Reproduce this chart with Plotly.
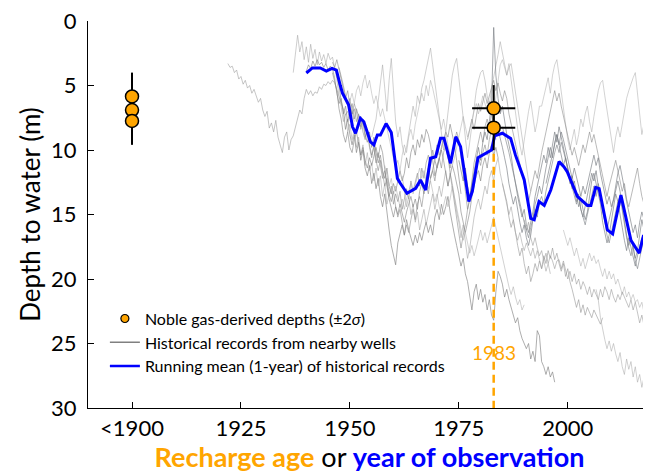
import plotly.graph_objects as go

# ---------------- data ----------------
# Noble gas-derived depths (recharge age); "<1900" plotted at 1900
NG_OLD_YEAR = [1900, 1900, 1900]
NG_OLD_DEPTH = [5.85, 6.9, 7.75]
NG_OLD_ERR = [1.85, 1.6, 1.85]

NG_1983_YEAR = [1983, 1983]
NG_1983_DEPTH = [6.77, 8.27]
NG_1983_ERR_Y = [1.8, 1.75]
NG_1983_ERR_X = [4.95, 4.95]

# Running mean (1-year) of historical records
MEAN_YEAR = [1940.0, 1941.4, 1943.2, 1944.6, 1945.9, 1946.9, 1947.8, 1948.3, 1949.7, 1950.6,
             1951.3, 1952.4, 1953.2, 1954.7, 1955.5, 1956.3, 1957.0, 1958.3, 1959.5, 1960.9,
             1961.6, 1963.1, 1965.1, 1966.2, 1967.4, 1968.5, 1969.7, 1970.8, 1971.6, 1973.1,
             1974.3, 1975.4, 1977.3, 1978.1, 1979.4, 1981.5, 1982.5, 1983.2, 1985.0, 1986.9,
             1988.0, 1990.0, 1991.5, 1992.3, 1993.4, 1994.6, 1996.1, 1998.0, 1999.1, 1999.9,
             2002.2, 2004.5, 2005.3, 2006.4, 2007.2, 2009.1, 2010.3, 2012.2, 2014.5, 2016.4,
             2017.4, 2018.3, 2019.3]
MEAN_DEPTH = [4.03, 3.64, 3.64, 3.88, 3.67, 3.80, 5.0, 5.6, 6.5, 8.2,
              8.71, 7.54, 7.81, 9.36, 9.61, 8.84, 8.84, 7.95, 8.65, 12.2,
              12.6, 13.36, 12.97, 12.33, 13.1, 10.64, 10.52, 9.09, 9.09, 11.03,
              8.97, 9.74, 14.0, 13.2, 10.6, 10.2, 10.0, 8.9, 8.7, 9.1,
              10.4, 12.3, 15.3, 15.4, 14.0, 14.3, 13.1, 10.9, 11.3, 11.7,
              13.6, 14.3, 14.3, 12.9, 13.0, 16.2, 16.5, 13.5, 17.0, 18.0,
              16.6, 17.2, 17.2]

# Historical records from nearby wells: start year and half-yearly depths
WELL_STEP = 0.5
WELL_START = [1922.0, 1937.0, 1940.0, 1946.0, 1947.0, 1955.0, 1975.0, 1983.0, 1984.0,
              1985.0, 1990.0, 2006.5, 1962.0, 1977.0, 1995.0, 1947.5,
              1946.0, 1950.0, 1985.0, 1958.0, 1999.0]
WELL_DEPTHS = [
    [3.3, 3.6, 3.5, 4.0, 3.8, 4.5, 4.3, 4.9, 4.6, 5.2, 5.0, 5.6, 5.3, 5.8, 6.3, 6.0, 6.9, 7.4, 7.0, 8.3,
     7.9, 8.6, 7.7, 9.0, 9.6, 10.2, 9.0, 8.6, 10.0, 9.2, 8.9, 8.2, 7.6, 6.9, 7.2, 6.0, 5.3, 5.7, 5.4, 5.8,
     5.5, 5.6, 5.1, 5.3, 4.9, 5.0, 4.7, 4.9, 4.6, 4.8, 5.3, 5.9, 6.4, 6.8, 7.3, 7.0, 7.6, 7.1, 7.8],
    [4.0, 2.6, 1.1, 2.4, 1.6, 3.0, 2.0, 3.2, 1.8, 2.9, 2.2, 3.4, 2.4, 3.1, 2.6, 3.3, 2.5, 3.0, 2.8, 3.6,
     4.5, 5.8, 6.6, 7.8, 7.2, 8.6, 8.0, 9.2, 8.4, 9.8, 9.0, 10.4, 9.6, 11.2, 10.2, 11.6, 11.0, 12.4, 11.4,
     12.8, 12.0, 13.6, 12.6, 14.2, 13.4],
    [3.9, 3.4, 3.7, 3.1, 3.5, 3.0, 3.4, 3.2, 3.6, 3.3, 3.8, 3.5, 3.7, 4.4, 5.6, 6.4, 6.0, 7.2, 6.6, 7.8,
     7.0, 6.4, 7.6, 6.8, 7.4, 8.2, 7.6, 8.8, 9.4, 8.6, 9.8, 9.0, 10.2, 11.0, 10.4, 11.6, 12.2, 11.4, 12.8,
     13.4, 12.6, 13.2, 12.4, 11.6, 12.4, 11.8, 10.6, 11.4, 10.2, 9.6, 10.4, 9.2, 9.8, 8.8, 9.4, 8.4, 8.8,
     9.6, 10.8, 12.0, 11.4, 10.6, 9.8, 9.2, 8.6, 9.0, 8.0, 8.8, 9.6, 10.8, 12.2, 13.4],
    [3.2, 3.6, 3.0, 3.8, 4.6, 5.2, 6.0, 5.4, 6.6, 7.2, 6.8, 7.8, 7.2, 8.4, 7.8, 9.0, 8.4, 9.6, 10.4, 9.8,
     11.0, 10.2, 11.4, 12.2, 11.6, 12.8, 13.6, 12.8, 14.2, 13.4, 14.0, 13.2, 14.6, 13.8, 13.0, 13.8, 12.4,
     13.2, 12.6, 11.8, 12.8, 11.4, 12.2, 11.0, 10.4, 11.2, 10.0, 10.8, 9.6, 10.4, 9.8, 9.0, 9.8, 10.6,
     11.4, 10.2, 9.4, 8.6, 9.2, 10.4, 11.8, 13.2, 14.6, 13.8, 12.4, 11.0, 10.2, 9.4, 8.6, 9.4, 8.2, 7.6,
     8.4, 7.2, 8.0, 9.2],
    [4.2, 5.0, 6.2, 7.0, 8.4, 7.6, 8.8, 9.6, 8.8, 10.2, 9.4, 10.8, 10.0, 11.4, 12.0, 11.2, 12.6, 11.8,
     13.0, 12.2, 13.6, 14.4, 13.4, 15.0, 16.2, 17.4, 18.2, 18.9, 17.2, 16.4, 15.8, 16.6, 15.4, 16.2, 16.8,
     17.4, 16.6, 17.2, 16.4, 17.0, 16.2, 15.6, 16.4, 15.8, 16.6, 15.2, 14.6, 15.4, 14.2, 15.0, 14.4, 13.6,
     14.8, 15.8, 16.6, 17.4, 18.2, 19.0, 18.4, 19.6, 20.2, 21.2, 22.4, 21.0, 20.4, 21.6, 20.8, 21.8, 21.2,
     22.4, 21.6, 22.8, 23.2, 21.0, 19.4, 19.8, 20.4, 21.4, 20.8, 21.6, 22.2, 22.8, 23.4, 23.0, 24.0, 24.6,
     25.0, 25.4, 25.0, 26.2, 25.6, 26.4, 24.0, 24.4, 26.4, 26.8, 27.4, 26.8, 27.6, 27.2, 28.0],
    [9.0, 8.4, 7.6, 6.2, 4.8, 3.4, 5.2, 7.0, 4.6, 2.9, 5.4, 7.8, 9.0, 8.2, 9.6, 10.4, 9.8, 8.6, 7.8, 6.6,
     7.4, 5.8, 6.4, 5.2, 4.6, 3.8, 3.0, 2.1, 3.4, 4.8, 6.2, 7.4, 8.8, 10.0, 8.6, 7.2, 5.6, 4.2, 3.4, 2.9,
     4.4, 6.0, 7.6, 9.2, 10.6, 9.4, 8.0, 6.8, 5.4, 4.6, 4.0, 3.8, 4.6, 5.8, 6.6, 5.2, 4.4, 3.6, 2.6, 1.6,
     2.4, 3.2, 4.2, 3.6, 3.3, 4.4, 5.6, 6.8, 8.0, 9.2, 10.4, 11.6, 12.4, 13.2],
    [10.8, 11.6, 12.4, 11.4, 12.8, 13.6, 12.6, 11.8, 10.6, 9.8, 10.8, 9.4, 8.6, 9.2, 7.8, 6.4, 0.5, 4.2,
     6.0, 7.2, 6.6, 7.8, 8.8, 9.6, 10.4, 11.6, 12.8, 13.6, 14.4, 15.2, 14.6, 15.8, 16.4, 15.6, 14.8, 13.6,
     12.8, 12.0, 11.2, 10.4, 11.0, 9.8, 10.6, 9.4, 8.6, 9.4, 8.2, 9.0, 9.8, 10.6, 11.4, 12.2, 13.0, 12.4,
     13.6, 14.4, 13.8, 14.6, 15.4, 14.8, 13.6, 12.4, 11.8, 12.6, 13.4, 14.2, 15.6, 16.4, 17.2, 16.6, 15.4,
     14.2, 13.4, 14.0, 15.2, 16.0, 17.0, 17.8, 16.8, 17.6, 18.4, 19.0, 18.2, 17.6, 16.8, 17.6, 18.2, 17.4,
     18.0],
    [7.2, 5.8, 4.4, 3.4, 3.0, 3.6, 4.2, 3.3, 4.6, 6.0, 7.2, 8.4, 9.6, 10.4, 9.2, 8.0, 7.0, 6.2, 7.4, 8.6,
     7.8, 6.6, 6.6, 5.8, 5.0, 4.4, 5.6, 4.2, 3.4, 3.0, 4.2, 5.6, 6.8, 8.0, 9.2, 10.0, 9.2, 8.4, 9.6, 8.8,
     7.6, 8.2, 7.2, 6.6, 7.8, 8.6, 7.4, 6.2, 5.4, 4.8, 4.6, 5.8, 7.0, 8.2, 9.4, 10.2, 9.0, 8.2, 9.0, 8.0,
     7.0, 6.0, 5.4, 4.8, 4.4, 4.0, 5.6, 7.2, 8.8, 8.0, 9.2, 8.6, 9.6],
    [8.4, 9.0, 9.8, 10.6, 11.4, 12.6, 13.4, 14.2, 13.6, 14.8, 15.6, 16.4, 15.8, 16.8, 17.4, 16.6, 15.4,
     14.2, 13.6, 12.8, 13.4, 12.2, 11.4, 10.6, 9.8, 10.6, 9.4, 8.8, 9.6, 10.4, 11.2, 10.6, 11.8, 12.6,
     12.0, 13.2, 14.0, 13.4, 14.6, 15.2, 14.4, 13.6, 12.6, 11.8, 12.4, 11.6, 12.8, 13.6, 14.8, 15.6, 16.2,
     15.4, 14.6, 13.8, 13.0, 12.4, 13.2, 14.4, 15.6, 16.6, 17.4, 16.8, 17.6, 18.4, 17.8, 16.6, 15.4, 16.2,
     17.0, 16.4, 17.2],
    [12.6, 13.3, 14.0, 15.2, 16.0, 15.4, 16.6, 17.4, 18.2, 17.6, 18.8, 19.6, 19.0, 20.2, 19.6, 18.8, 19.4,
     18.6, 19.2, 18.2, 18.8, 17.8, 18.4, 17.6, 18.5, 18.0, 18.8, 19.4, 18.8, 19.8, 19.2, 20.2, 20.8, 21.6,
     22.2, 21.6, 22.6, 22.0, 22.8, 22.2, 22.6, 23.0, 22.4, 22.8, 23.2, 23.5, 23.0],
    [15.4, 16.2, 15.6, 16.8, 17.4, 16.8, 17.6, 18.2, 17.8, 18.6, 18.0, 18.8, 18.2, 18.6, 19.2, 18.6, 18.5,
     19.2, 18.6, 19.4, 20.0, 19.4, 20.2, 19.6, 20.4, 20.0, 20.8, 20.2, 20.6, 21.2, 20.6, 21.4, 20.8, 21.2,
     21.6, 20.8, 21.4, 20.6, 21.0, 21.6, 20.8, 21.4, 21.8, 21.2, 21.6, 21.0, 21.4, 21.8, 22.2, 21.6, 22.4,
     21.8, 22.6, 23.4, 22.8, 23.6, 22.4, 23.8, 23.2],
    [20.8, 21.6, 23.0, 24.0, 24.7, 25.4, 24.8, 25.6, 25.0, 25.8, 26.4, 25.7, 26.8, 27.4, 26.2, 27.0, 26.4,
     27.6, 26.8, 28.0, 27.4, 28.4, 27.6, 28.8, 29.2, 28.6],
    [12.0, 13.2, 14.4, 13.6, 15.0, 14.2, 15.6, 14.8, 16.2, 15.4, 14.6, 15.8, 15.0, 14.2, 13.4, 14.6, 13.8,
     12.8, 13.6, 12.4, 11.6, 12.8, 11.8, 12.6, 13.8, 14.8, 15.6, 16.8, 15.8, 17.2, 18.4, 17.6, 16.2, 15.2,
     14.4, 13.8, 14.6, 13.6, 12.8, 13.4, 12.2, 11.6, 12.4, 11.2, 10.6, 11.8, 12.6, 13.4, 14.2, 15.0, 14.4,
     15.6, 16.4, 17.0, 16.4, 17.2, 17.8, 17.2, 17.8, 18.2, 17.6, 18.4, 17.8, 18.6, 19.2, 18.6, 19.4, 18.8,
     19.6],
    [9.2, 8.4, 7.6, 8.4, 7.2, 6.4, 7.0, 6.2, 5.6, 6.4, 5.8, 5.0, 4.6, 5.4, 4.8, 5.6, 6.2, 5.4, 6.0, 7.2,
     8.0, 8.8, 9.6, 10.4, 11.2, 12.0, 12.8, 13.4, 14.0, 13.2, 12.4, 11.6, 12.2, 11.0, 10.2, 9.4, 8.6, 7.6,
     6.8, 6.0, 5.4, 6.2, 5.6, 6.6, 7.4, 8.2, 9.0, 9.8, 10.4, 9.8, 10.6, 11.2, 10.4, 9.6, 10.2, 9.4, 8.6,
     9.4, 8.8, 9.6, 10.4, 11.2, 12.0, 12.8, 13.6, 12.8, 12.2, 11.4, 10.8, 11.6, 12.4, 13.2, 12.6, 13.8,
     14.4, 13.6, 12.8, 12.0, 11.4, 12.6, 13.6, 14.2, 13.6, 14.4, 15.0],
    [12.6, 11.8, 11.0, 10.2, 9.4, 8.8, 9.6, 8.6, 9.2, 10.0, 10.8, 11.6, 12.2, 11.4, 12.0, 12.8, 13.6, 12.8,
     13.4, 12.6, 11.8, 11.0, 10.4, 11.2, 10.6, 11.8, 12.6, 13.4, 14.2, 13.6, 14.4, 13.8, 12.6, 11.8, 11.2,
     12.0, 13.0, 14.0, 14.8, 15.6, 16.4, 15.8, 16.8, 15.6, 14.8, 15.4, 16.0, 16.8, 16.2],
    [3.6, 4.2, 5.0, 5.8, 6.6, 6.0, 7.2, 6.4, 7.0, 8.2, 7.4, 8.6, 9.2, 8.4, 9.8, 10.6, 9.6, 10.8, 11.6, 10.8,
     12.0, 12.8, 12.2, 13.4, 14.0, 13.2, 14.4, 15.2, 14.6, 15.8, 16.6, 15.8, 16.4, 15.4, 14.6, 15.4, 14.2,
     13.6, 14.4, 13.2, 12.6, 13.4, 12.2, 11.6, 12.4, 11.2, 10.6, 11.4, 10.2, 9.6, 10.4, 11.8, 13.0, 14.2,
     15.4, 16.8, 17.6, 16.6, 15.8, 14.6, 13.8, 12.8, 12.0, 11.4, 10.6, 11.2, 10.2, 9.6, 10.4, 9.2, 8.4],
    [4.0, 4.6, 5.4, 6.8, 7.6, 8.8, 9.4, 8.6, 9.8, 10.2, 9.2, 8.6, 9.6, 10.4, 9.8, 10.8, 11.4, 10.6, 11.2,
     10.4, 9.8, 10.6, 9.6, 10.2, 11.6, 12.8, 13.8, 14.6, 15.2, 14.4, 15.0, 14.2, 14.8, 15.6, 14.8, 14.2,
     13.6, 14.4, 13.8, 14.6, 13.2, 12.6, 13.4, 12.2, 11.4, 12.2, 11.6, 10.8, 11.4, 10.6, 10.0, 10.8, 12.0,
     12.8, 12.0, 11.2, 11.8, 12.6, 13.4, 14.8, 15.6, 16.4, 15.6, 14.8, 13.6, 12.8, 12.0, 11.6, 12.4, 11.2,
     10.6, 11.4, 10.2, 9.6, 10.4, 9.8, 10.6],
    [6.2, 5.6, 6.4, 5.4, 5.0, 5.8, 4.8, 4.2, 5.2, 4.6, 5.6, 6.4, 5.8, 6.6, 7.4, 6.8, 7.6, 8.4, 9.0, 9.8,
     10.6, 11.4, 10.8, 11.6, 10.4, 9.6, 10.2, 9.0, 8.4, 9.2, 8.0, 7.2, 6.4, 5.6, 6.2, 5.0, 5.8, 4.6, 5.2,
     6.0, 6.8, 7.6, 8.4, 7.6, 8.8, 9.6, 10.4, 11.2, 10.6, 9.8, 9.0, 8.2, 7.4, 8.2, 9.0, 8.4, 7.6, 7.0, 6.4,
     7.2, 6.6, 5.8, 6.4, 7.0, 6.2, 6.8, 7.4],
    [8.2, 8.8, 9.6, 10.2, 11.0, 11.8, 12.4, 13.2, 14.0, 14.8, 15.6, 16.2, 16.8, 16.0, 15.4, 14.6, 15.2,
     14.0, 13.6, 14.2, 13.2, 12.4, 11.6, 10.8, 10.2, 9.6, 10.2, 9.4, 10.0, 10.8, 11.4, 12.2, 12.8, 13.6,
     14.2, 13.6, 14.6, 15.2, 15.8, 15.0, 14.2, 13.4, 12.8, 13.6, 12.6, 13.4, 14.6, 15.8, 16.6, 17.2, 16.4,
     15.6, 14.8, 14.0, 13.6, 14.8, 15.6, 16.8, 17.6, 18.2, 17.4, 18.6, 19.2, 18.4, 17.6, 16.8, 17.6, 18.4,
     17.8],
    [11.2, 12.0, 12.8, 12.2, 13.4, 12.8, 13.6, 14.4, 13.8, 14.6, 13.8, 13.2, 12.6, 13.4, 12.8, 12.0, 11.4,
     12.2, 11.6, 12.4, 13.0, 12.4, 13.2, 14.0, 13.4, 14.4, 15.0, 14.2, 13.6, 14.4, 13.8, 12.8, 13.6, 14.6,
     15.4, 16.2, 17.0, 16.4, 17.2, 18.0, 17.4, 18.2, 17.6, 16.8, 16.2, 17.0, 16.4, 17.2, 16.6, 15.8, 15.2,
     16.0, 16.8, 17.6, 18.2, 19.0, 19.8, 20.6, 21.2, 20.6, 21.4, 22.0, 21.6, 22.4, 22.0],
    [16.2, 16.8, 17.4, 16.8, 17.6, 18.2, 17.6, 18.4, 19.0, 18.4, 19.2, 18.6, 18.0, 18.6, 18.2, 18.8, 18.5,
     19.2, 19.8, 19.2, 20.0, 19.4, 20.0, 19.6, 20.4, 20.0, 20.6, 21.2, 20.6, 21.4, 21.0, 21.6, 21.2, 21.8,
     21.6, 22.2, 21.8, 22.6, 22.2, 22.8, 22.4],
]

X_TICK_VALS = [1900, 1925, 1950, 1975, 2000]
X_TICK_TEXT = ["<1900", "1925", "1950", "1975", "2000"]
Y_TICK_VALS = [0, 5, 10, 15, 20, 25, 30]
MARK_YEAR = 1983
MARK_LABEL = "1983"

# ---------------- styles ----------------
FONT = "Lato, 'Open Sans', sans-serif"
ORANGE = "#FFA500"
BLUE = "#0000FF"
WELL_RGBA = ["rgba(160,160,160,0.6)", "rgba(165,165,165,0.55)", "rgba(130,130,130,0.6)",
             "rgba(140,140,140,0.6)", "rgba(130,130,130,0.65)", "rgba(170,170,170,0.55)",
             "rgba(120,125,130,0.65)", "rgba(175,175,175,0.55)", "rgba(120,125,130,0.65)",
             "rgba(150,150,150,0.6)", "rgba(150,150,150,0.55)", "rgba(170,170,170,0.55)",
             "rgba(160,160,160,0.55)", "rgba(140,140,140,0.6)", "rgba(120,125,130,0.65)",
             "rgba(140,140,140,0.6)", "rgba(130,130,130,0.6)", "rgba(170,170,170,0.5)",
             "rgba(120,125,130,0.6)", "rgba(165,165,165,0.5)", "rgba(170,170,170,0.5)"]

fig = go.Figure()

for i, (start, depths) in enumerate(zip(WELL_START, WELL_DEPTHS)):
    years = [start + WELL_STEP * k for k in range(len(depths))]
    fig.add_trace(go.Scatter(x=years, y=depths, mode="lines",
                             line=dict(color=WELL_RGBA[i], width=1),
                             showlegend=False, hoverinfo="skip"))

fig.add_trace(go.Scatter(x=MEAN_YEAR, y=MEAN_DEPTH, mode="lines",
                         line=dict(color=BLUE, width=3), showlegend=False))

# dashed marker line at 1983
fig.add_trace(go.Scatter(x=[MARK_YEAR, MARK_YEAR], y=[10.3, 30], mode="lines",
                         line=dict(color=ORANGE, width=2.5, dash="8px,5px"),
                         showlegend=False, hoverinfo="skip"))

marker = dict(color=ORANGE, size=13, line=dict(color="black", width=1.5))
fig.add_trace(go.Scatter(x=NG_OLD_YEAR, y=NG_OLD_DEPTH, mode="markers", marker=marker,
                         error_y=dict(type="data", array=NG_OLD_ERR, color="black",
                                      thickness=2, width=0),
                         showlegend=False))
fig.add_trace(go.Scatter(x=NG_1983_YEAR, y=NG_1983_DEPTH, mode="markers", marker=marker,
                         error_y=dict(type="data", array=NG_1983_ERR_Y, color="black",
                                      thickness=2, width=0),
                         error_x=dict(type="data", array=NG_1983_ERR_X, color="black",
                                      thickness=2, width=0),
                         showlegend=False))

# legend entries
fig.add_trace(go.Scatter(x=[None], y=[None], mode="markers",
                         marker=dict(color=ORANGE, size=8, symbol="circle",
                                     line=dict(color="black", width=1.2)),
                         name="Noble gas-derived depths (±2<i>σ</i>)"))
fig.add_trace(go.Scatter(x=[None], y=[None], mode="lines",
                         line=dict(color="#808080", width=1.5),
                         name="Historical records from nearby wells"))
fig.add_trace(go.Scatter(x=[None], y=[None], mode="lines",
                         line=dict(color=BLUE, width=2.5),
                         name="Running mean (1-year) of historical records"))

fig.add_annotation(x=MARK_YEAR, y=25.7, text=MARK_LABEL, showarrow=False,
                   font=dict(color=ORANGE, size=19, family=FONT), xanchor="center", yanchor="middle")

# the page body adds an 8px margin, so the figure is 8px smaller than the window
fig.update_layout(
    width=643, height=466,
    margin=dict(l=80, r=0, t=13, b=66),
    paper_bgcolor="white", plot_bgcolor="white",
    font=dict(family=FONT, color="black"),
    showlegend=True,
    legend=dict(x=0.03, y=0.275, xanchor="left", yanchor="top",
                bgcolor="rgba(0,0,0,0)", font=dict(size=16, family=FONT)),
    xaxis=dict(range=[1889.9, 2019.1], tickvals=X_TICK_VALS, ticktext=X_TICK_TEXT,
               ticks="inside", ticklen=6, tickcolor="black", showline=True, linecolor="black",
               linewidth=1.2, showgrid=False, zeroline=False, mirror=False, automargin=False,
               ticklabeloverflow="allow",
               tickfont=dict(size=22, family=FONT),
               title=dict(text="<b><span style='color:#FFA500'>Recharge age</span></b> or "
                               "<b><span style='color:#0000FF'>year of observation</span></b>",
                          font=dict(size=27, family=FONT), standoff=2)),
    yaxis=dict(range=[30, 0], tickvals=Y_TICK_VALS, ticks="inside", ticklen=6,
               tickcolor="black", showline=True, linecolor="black", linewidth=1.2,
               showgrid=False, zeroline=False, tickfont=dict(size=22, family=FONT),
               ticklabelstandoff=6, automargin=False, ticklabeloverflow="allow",
               title=dict(text="Depth to water (m)", font=dict(size=26, family=FONT), standoff=2)),
)

fig.write_html("out.html")
